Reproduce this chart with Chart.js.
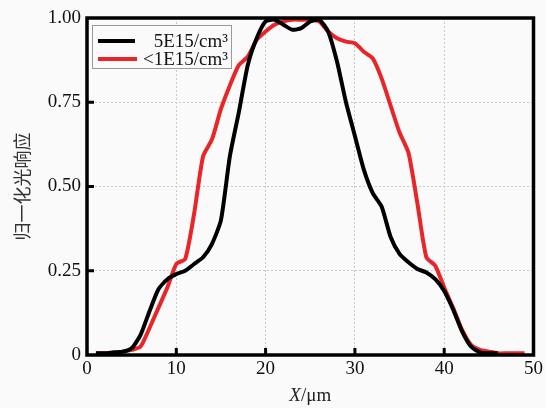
<!DOCTYPE html>
<html><head><meta charset="utf-8">
<script src="https://cdn.jsdelivr.net/npm/chart.js@4"></script>
<style>html,body{margin:0;padding:0;background:#fafafa;}#c{display:block;}</style>
</head><body>
<canvas id="c" width="546" height="408"></canvas>
<script>
const xTicks = [0, 10, 20, 30, 40, 50];
const yTicks = [0, 0.25, 0.5, 0.75, 1.0];
const seriesNames = ['5E15/cm\u00B3', '<1E15/cm\u00B3'];
const seriesColors = ['#000000', '#e8262a'];
const xBlack = [1,2,3,4,5,6,7,8,9,10,11,12,13,14,15,16,17,18,19,20,21,22,23,24,25,26,27,28,29,30,31,32,33,34,35,36,37,38,39,40,41,42,43,44,45,46];
const yBlack = [0.005,0.005,0.008,0.01,0.02,0.06,0.13,0.195,0.225,0.24,0.25,0.27,0.29,0.33,0.40,0.59,0.72,0.86,0.94,0.99,0.995,0.98,0.965,0.97,0.99,0.995,0.96,0.87,0.75,0.65,0.55,0.48,0.44,0.35,0.30,0.275,0.255,0.245,0.225,0.19,0.135,0.07,0.025,0.008,0.005,0.005];
const xRed = [1,2,3,4,5,6,7,8,9,10,11,12,13,14,15,16,17,18,19,20,21,22,23,24,25,26,27,28,29,30,31,32,33,34,35,36,37,38,39,40,41,42,43,44,45,46,47,48,49];
const yRed = [0.005,0.005,0.005,0.01,0.015,0.025,0.08,0.14,0.2,0.27,0.285,0.42,0.59,0.64,0.73,0.8,0.86,0.885,0.935,0.96,0.98,0.99,0.995,0.995,0.995,0.99,0.96,0.94,0.93,0.925,0.9,0.88,0.82,0.74,0.66,0.6,0.45,0.29,0.265,0.2,0.14,0.075,0.03,0.015,0.01,0.005,0.005,0.005,0.005];

const serif = '"Liberation Serif", "DejaVu Serif", serif';
const toPts = (xs, ys) => xs.map((x, i) => ({x: x, y: ys[i]}));

const decor = {
  id: 'decor',
  afterDatasetsDraw(chart) {
    const ctx = chart.ctx, a = chart.chartArea;
    const xs = chart.scales.x, ys = chart.scales.y;
    ctx.save();
    // inward ticks
    ctx.strokeStyle = '#000'; ctx.lineWidth = 3;
    xTicks.slice(1, -1).forEach(v => {
      const px = xs.getPixelForValue(v);
      ctx.beginPath(); ctx.moveTo(px, a.bottom); ctx.lineTo(px, a.bottom - 7); ctx.stroke();
    });
    yTicks.slice(1, -1).forEach(v => {
      const py = ys.getPixelForValue(v);
      ctx.beginPath(); ctx.moveTo(a.left, py); ctx.lineTo(a.left + 7, py); ctx.stroke();
    });
    // frame
    ctx.lineWidth = 3.5;
    ctx.strokeRect(a.left, a.top, a.right - a.left, a.bottom - a.top);
    // legend
    const lx = 92, ly = 25, lw = 139, lh = 43;
    ctx.fillStyle = '#fafafa';
    ctx.fillRect(lx, ly, lw, lh);
    ctx.lineWidth = 1; ctx.strokeStyle = '#9a9a9a';
    ctx.strokeRect(lx + 0.5, ly + 0.5, lw, lh);
    ctx.font = '19px ' + serif;
    ctx.textBaseline = 'middle'; ctx.textAlign = 'right';
    [41, 59].forEach((yy, i) => {
      ctx.strokeStyle = seriesColors[i]; ctx.lineWidth = 4;
      ctx.beginPath(); ctx.moveTo(98, yy); ctx.lineTo(i === 0 ? 135 : 137, yy); ctx.stroke();
      ctx.fillStyle = '#111';
      ctx.fillText(seriesNames[i], 228, yy + 1);
    });
    // axis titles
    ctx.fillStyle = '#222';
    ctx.textAlign = 'left'; ctx.textBaseline = 'alphabetic';
    ctx.font = 'italic 19px ' + serif;
    const t1 = 'X', t2 = '/\u03BCm';
    const w1 = ctx.measureText(t1).width;
    ctx.font = '19px ' + serif;
    const w2 = ctx.measureText(t2).width;
    let sx = (a.left + a.right) / 2 - (w1 + w2) / 2;
    ctx.font = 'italic 19px ' + serif; ctx.fillText(t1, sx, 401);
    ctx.font = '19px ' + serif; ctx.fillText(t2, sx + w1, 401);
    ctx.translate(22, (a.top + a.bottom) / 2);
    ctx.rotate(-Math.PI / 2);
    ctx.textAlign = 'center'; ctx.textBaseline = 'middle';
    ctx.fillStyle = '#333';
    ctx.font = '18px "Noto Sans CJK SC", sans-serif';
    ctx.fillText('归一化光响应', 0, 0);
    ctx.restore();
  }
};

new Chart(document.getElementById('c'), {
  type: 'line',
  data: {
    datasets: [
      {label: seriesNames[0], data: toPts(xBlack, yBlack), borderColor: seriesColors[0], borderWidth: 4, pointRadius: 0, tension: 0.2, fill: false},
      {label: seriesNames[1], data: toPts(xRed, yRed), borderColor: seriesColors[1], borderWidth: 4, pointRadius: 0, tension: 0.2, fill: false}
    ]
  },
  options: {
    responsive: false, animation: false,
    layout: {padding: {top: 18, right: 10, left: 0, bottom: 0}},
    plugins: {legend: {display: false}, tooltip: {enabled: false}},
    scales: {
      x: {
        type: 'linear', min: 0, max: 50,
        afterBuildTicks: s => { s.ticks = xTicks.map(v => ({value: v})); },
        afterFit: s => { s.height = 53; },
        grid: {color: '#c8c8c8', lineWidth: 1, drawTicks: false, tickBorderDash: [2, 2]},
        border: {display: false, dash: [2, 2]},
        ticks: {font: {family: serif, size: 19}, color: '#111', padding: 3, maxRotation: 0, callback: v => String(v)}
      },
      y: {
        type: 'linear', min: 0, max: 1,
        afterBuildTicks: s => { s.ticks = yTicks.map(v => ({value: v})); },
        afterFit: s => { s.width = 87; },
        grid: {color: '#c8c8c8', lineWidth: 1, drawTicks: false},
        border: {display: false, dash: [2, 2]},
        ticks: {font: {family: serif, size: 19}, color: '#111', padding: 6, callback: v => v === 0 ? '0' : v.toFixed(2)}
      }
    }
  },
  plugins: [decor]
});
</script>
</body></html>
